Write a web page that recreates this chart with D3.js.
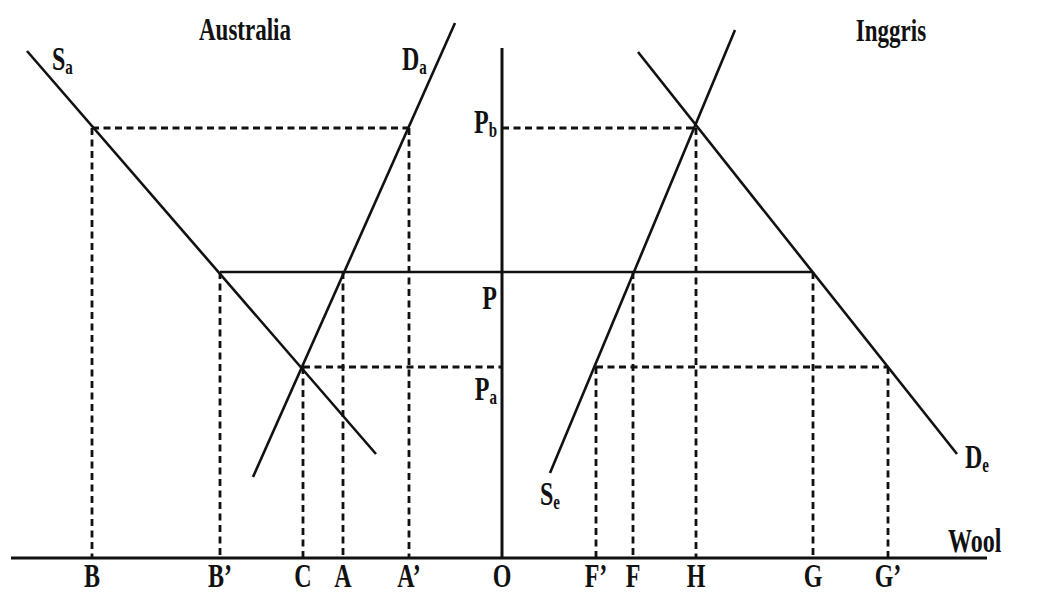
<!DOCTYPE html>
<html>
<head>
<meta charset="utf-8">
<script src="https://cdn.jsdelivr.net/npm/d3@7"></script>
<style>
  body { margin: 0; background: #fff; }
  text { font-family: "Liberation Serif", "Times New Roman", serif; font-weight: bold; fill: #111; }
</style>
</head>
<body>
<div id="chart"></div>
<script>
// Quantity (wool) points on the horizontal axis, O is the origin, Australia to the left
var qLabels = ["B", "B\u2019", "C", "A", "A\u2019", "O", "F\u2019", "F", "H", "G", "G\u2019"];
var qValues = [-82, -56.4, -39.8, -31.8, -18.6, 0, 18.8, 26.2, 38.8, 62.2, 77.2];

// Price levels
var pLabels = ["P", "P", "P"];
var pSubs = ["b", "", "a"];
var pValues = [86, 57.2, 38.2];

// Curves, each as two end points [quantity, price]
var curveNames = ["S", "D", "S", "D"];
var curveSubs = ["a", "a", "e", "e"];
var curveStart = [[-95, 101.4], [-9.4, 107], [9.6, 17], [27.2, 101.2]];
var curveEnd = [[-25.2, 20.8], [-49.8, 16.2], [46.6, 105.6], [91, 20.8]];

// Dashed guides: horizontal [price index, from q index, to q index], vertical [q index, price index]
var hGuides = [[0, 0, 4], [0, 5, 8], [2, 2, 5], [2, 6, 10]];
var vGuides = [[0, 0], [1, 1], [2, 2], [3, 1], [4, 0], [6, 2], [7, 1], [8, 0], [9, 1], [10, 2]];

var width = 1055, height = 595;
var svg = d3.select("#chart").append("svg").attr("width", width).attr("height", height);

var x = d3.scaleLinear().domain([-98.2, 97]).range([11, 987]);
var y = d3.scaleLinear().domain([0, 102]).range([558, 48]);

// axes
svg.append("line").attr("x1", x(0)).attr("x2", x(0)).attr("y1", y(102)).attr("y2", y(0))
  .attr("stroke", "#111").attr("stroke-width", 3);
svg.append("line").attr("x1", x(-98.2)).attr("x2", x(97)).attr("y1", y(0)).attr("y2", y(0))
  .attr("stroke", "#111").attr("stroke-width", 3);

// dashed guides
svg.selectAll(".hg").data(hGuides).enter().append("line")
  .attr("x1", function(d) { return x(qValues[d[1]]); })
  .attr("x2", function(d) { return x(qValues[d[2]]); })
  .attr("y1", function(d) { return y(pValues[d[0]]); })
  .attr("y2", function(d) { return y(pValues[d[0]]); })
  .attr("stroke", "#111").attr("stroke-width", 2.8).attr("stroke-dasharray", "7,4.5");

svg.selectAll(".vg").data(vGuides).enter().append("line")
  .attr("x1", function(d) { return x(qValues[d[0]]); })
  .attr("x2", function(d) { return x(qValues[d[0]]); })
  .attr("y1", function(d) { return y(pValues[d[1]]); })
  .attr("y2", y(0))
  .attr("stroke", "#111").attr("stroke-width", 2.8).attr("stroke-dasharray", "7,4.5");

// world price line P, from B' to G
svg.append("line").attr("x1", x(qValues[1])).attr("x2", x(qValues[9]))
  .attr("y1", y(pValues[1])).attr("y2", y(pValues[1]))
  .attr("stroke", "#111").attr("stroke-width", 2.6);

// supply and demand curves
svg.selectAll(".curve").data(curveStart).enter().append("line")
  .attr("x1", function(d) { return x(d[0]); })
  .attr("y1", function(d) { return y(d[1]); })
  .attr("x2", function(d, i) { return x(curveEnd[i][0]); })
  .attr("y2", function(d, i) { return y(curveEnd[i][1]); })
  .attr("stroke", "#111").attr("stroke-width", 2.6);

// text helper, glyphs are stretched vertically like the scan
function label(px, py, main, sub, anchor, size) {
  var g = svg.append("g").attr("transform", "translate(" + px + "," + py + ") scale(1,1.4)");
  var t = g.append("text").attr("text-anchor", anchor || "start").style("font-size", (size || 24) + "px");
  t.append("tspan").text(main);
  if (sub) t.append("tspan").attr("dy", 3).style("font-size", "15px").text(sub);
  return t;
}

label(245, 40, "Australia", "", "middle", 23);
label(891, 41, "Inggris", "", "middle", 23);

// quantity labels
qLabels.forEach(function(l, i) { label(x(qValues[i]), 587, l, "", "middle"); });

// price labels
var pOffset = [5, 37, 33];
pLabels.forEach(function(l, i) { label(x(0) - 5, y(pValues[i]) + pOffset[i], l, pSubs[i], "end"); });

// curve labels
label(x(curveStart[0][0]) + 25, y(curveStart[0][1]) + 19, curveNames[0], curveSubs[0]);
label(x(curveStart[1][0]) - 53, y(curveStart[1][1]) + 47, curveNames[1], curveSubs[1]);
label(x(curveStart[2][0]) - 10, y(curveStart[2][1]) + 32, curveNames[2], curveSubs[2]);
label(x(curveEnd[3][0]) + 8, y(curveEnd[3][1]) + 14, curveNames[3], curveSubs[3]);
label(948, 552, "Wool", "");
</script>
</body>
</html>
